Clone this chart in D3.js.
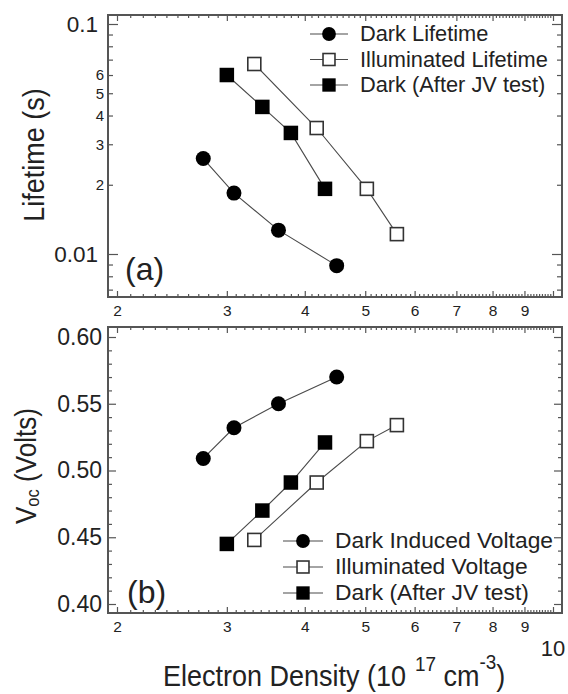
<!DOCTYPE html>
<html>
<head>
<meta charset="utf-8">
<script src="https://cdn.jsdelivr.net/npm/d3@7"></script>
<style>
body { margin: 0; background: #fff; }
svg { display: block; }
</style>
</head>
<body>
<svg id="chart" width="568" height="694"></svg>
<script>
// electron density (10^17 cm^-3) for each series, same in both panels
const darkDensity = [2.75, 3.08, 3.63, 4.5];
const illumDensity = [3.32, 4.18, 5.03, 5.62];
const jvDensity = [3.0, 3.42, 3.8, 4.31];

// panel (a): lifetime in s
const darkLifetime = [0.026, 0.0184, 0.0127, 0.0089];
const illumLifetime = [0.067, 0.0353, 0.0192, 0.0122];
const jvLifetime = [0.060, 0.0436, 0.0336, 0.0192];

// panel (b): Voc in volts
const darkVoc = [0.509, 0.532, 0.550, 0.570];
const illumVoc = [0.448, 0.491, 0.522, 0.534];
const jvVoc = [0.445, 0.470, 0.491, 0.521];

const legendA = ["Dark Lifetime", "Illuminated Lifetime", "Dark (After JV test)"];
const legendB = ["Dark Induced Voltage", "Illuminated Voltage", "Dark (After JV test)"];
const markers = ["circle", "open", "filled"];

// tick values / labels
const densityTicks = [2, 3, 4, 5, 6, 7, 8, 9, 10];
const densityLabels = [2, 3, 4, 5, 6, 7, 8, 9];
const lifetimeMajor = [0.01, 0.1];
const lifetimeMinor = [0.007, 0.008, 0.009, 0.02, 0.03, 0.04, 0.05, 0.06, 0.07, 0.08, 0.09];
const lifetimeMinorLabels = [0.02, 0.03, 0.04, 0.05, 0.06];
const vocMajor = [0.40, 0.45, 0.50, 0.55, 0.60];

const FONT = "Arial, 'Liberation Sans', sans-serif";
const INK = "#222";
const FRAME = "#555";

const svg = d3.select("#chart");

const panelA = { left: 108, right: 562, top: 15, bottom: 297 };
const panelB = { left: 108, right: 562, top: 327, bottom: 613 };

const x = d3.scaleLog().domain([2, 10]).range([117, 553]);
const yA = d3.scaleLog().domain([0.01, 0.1]).range([254, 24]);
const yB = d3.scaleLinear().domain([0.40, 0.60]).range([604, 337]);

// minor density ticks every 0.1, voc minor every 0.01
const densityMinor = d3.range(20, 100).filter(v => v % 10 !== 0).map(v => v / 10);
const vocMinor = d3.range(40, 61).filter(v => v % 5 !== 0).map(v => v / 100);

function addAxis(axis, tx, ty, fontSize) {
    const g = svg.append("g")
        .attr("transform", `translate(${tx},${ty})`)
        .call(axis);
    g.attr("font-family", FONT).attr("font-size", fontSize);
    g.select(".domain").remove();
    g.selectAll("line").attr("stroke", FRAME).attr("stroke-width", 1.2);
    g.selectAll("text").attr("fill", INK);
    return g;
}

function drawFrame(p) {
    // x ticks, bottom (labelled) and top (mirror)
    addAxis(d3.axisBottom(x).tickValues(densityTicks).tickSize(-6).tickPadding(8)
        .tickFormat(d => densityLabels.includes(d) ? d : ""), 0, p.bottom, 15.5);
    addAxis(d3.axisBottom(x).tickValues(densityMinor).tickSize(-3).tickFormat(""), 0, p.bottom, 14);
    addAxis(d3.axisTop(x).tickValues(densityTicks).tickSize(-6).tickFormat(""), 0, p.top, 14);
    addAxis(d3.axisTop(x).tickValues(densityMinor).tickSize(-3).tickFormat(""), 0, p.top, 14);

    svg.append("rect")
        .attr("x", p.left)
        .attr("y", p.top)
        .attr("width", p.right - p.left)
        .attr("height", p.bottom - p.top)
        .attr("fill", "none")
        .attr("stroke", FRAME)
        .attr("stroke-width", 2);
}

function drawSeries(xs, ys, yScale, shape) {
    const pts = xs.map((d, i) => [x(d), yScale(ys[i])]);
    svg.append("path")
        .attr("d", d3.line()(pts))
        .attr("fill", "none")
        .attr("stroke", "#4a4a4a")
        .attr("stroke-width", 1.1);
    pts.forEach(pt => addMarker(pt[0], pt[1], shape, 1));
}

function addMarker(cx, cy, shape, scale) {
    if (shape === "circle") {
        svg.append("circle")
            .attr("cx", cx).attr("cy", cy)
            .attr("r", 7.5 * scale)
            .attr("fill", "#000");
    } else {
        const s = (shape === "open" ? 13 : 14.5) * scale;
        svg.append("rect")
            .attr("x", cx - s / 2).attr("y", cy - s / 2)
            .attr("width", s).attr("height", s)
            .attr("fill", shape === "open" ? "#fff" : "#000")
            .attr("stroke", shape === "open" ? "#333" : "none")
            .attr("stroke-width", 1.6);
    }
}

function drawLegend(labels, x0, x1, tx, rows, fontSize) {
    labels.forEach((label, i) => {
        const cy = rows[i];
        svg.append("line")
            .attr("x1", x0).attr("x2", x1)
            .attr("y1", cy).attr("y2", cy)
            .attr("stroke", "#4a4a4a")
            .attr("stroke-width", 1.1);
        addMarker((x0 + x1) / 2, cy, markers[i], 0.92);
        svg.append("text")
            .attr("x", tx)
            .attr("y", cy + 7)
            .attr("font-family", FONT)
            .attr("font-size", fontSize)
            .attr("fill", INK)
            .text(label);
    });
}

function addText(str, tx, ty, size, anchor = "start") {
    return svg.append("text")
        .attr("x", tx)
        .attr("y", ty)
        .attr("font-family", FONT)
        .attr("font-size", size)
        .attr("fill", INK)
        .attr("text-anchor", anchor)
        .text(str);
}

// ---- panel (a) ----
drawFrame(panelA);
addAxis(d3.axisLeft(yA).tickValues(lifetimeMajor).tickSize(-10).tickPadding(10)
    .tickFormat(d => d === 0.1 ? "0.1" : "0.01"), panelA.left, 0, 22.5);
addAxis(d3.axisLeft(yA).tickValues(lifetimeMinor).tickSize(-5).tickPadding(4)
    .tickFormat(d => lifetimeMinorLabels.includes(d) ? Math.round(d * 100) : ""), panelA.left, 0, 15);
addAxis(d3.axisRight(yA).tickValues(lifetimeMajor).tickSize(-10).tickFormat(""), panelA.right, 0, 14);
addAxis(d3.axisRight(yA).tickValues(lifetimeMinor).tickSize(-5).tickFormat(""), panelA.right, 0, 14);

drawSeries(darkDensity, darkLifetime, yA, "circle");
drawSeries(illumDensity, illumLifetime, yA, "open");
drawSeries(jvDensity, jvLifetime, yA, "filled");
drawLegend(legendA, 310, 348, 360, [34, 59.5, 85], 21.8);

addText("(a)", 125, 280, 32);
// axis titles are a little condensed in the original
addText("Lifetime (s)", 0, 0, 30, "middle")
    .attr("transform", "translate(44,155) rotate(-90) scale(0.9,1)");

// ---- panel (b) ----
drawFrame(panelB);
addAxis(d3.axisLeft(yB).tickValues(vocMajor).tickSize(-8).tickPadding(6)
    .tickFormat(d3.format(".2f")), panelB.left, 0, 23);
addAxis(d3.axisLeft(yB).tickValues(vocMinor).tickSize(-4).tickFormat(""), panelB.left, 0, 14);
addAxis(d3.axisRight(yB).tickValues(vocMajor).tickSize(-8).tickFormat(""), panelB.right, 0, 14);
addAxis(d3.axisRight(yB).tickValues(vocMinor).tickSize(-4).tickFormat(""), panelB.right, 0, 14);

drawSeries(darkDensity, darkVoc, yB, "circle");
drawSeries(illumDensity, illumVoc, yB, "open");
drawSeries(jvDensity, jvVoc, yB, "filled");
drawLegend(legendB, 283, 323, 335, [541, 567, 593], 22.8);

addText("(b)", 127, 603, 32);

const vLabel = addText("", 0, 0, 30, "middle")
    .attr("transform", "translate(36,466) rotate(-90) scale(0.87,1)");
vLabel.append("tspan").text("V");
vLabel.append("tspan").attr("font-size", 19).attr("dy", 3).text("oc");
vLabel.append("tspan").attr("dy", -3).text(" (Volts)");

// stray "10" label under the last tick
addText("10", 553, 656, 22, "middle");

// x title with superscripts
const title = addText("", 0, 0, 30)
    .attr("transform", "translate(163,686) scale(0.9,1)");
title.append("tspan").text("Electron Density (10");
title.append("tspan").attr("font-size", 21).attr("dx", 10).attr("dy", -15).text("17");
title.append("tspan").attr("dy", 15).text(" cm");
title.append("tspan").attr("font-size", 21).attr("dy", -17).text("-3");
title.append("tspan").attr("dy", 17).text(")");
</script>
</body>
</html>
